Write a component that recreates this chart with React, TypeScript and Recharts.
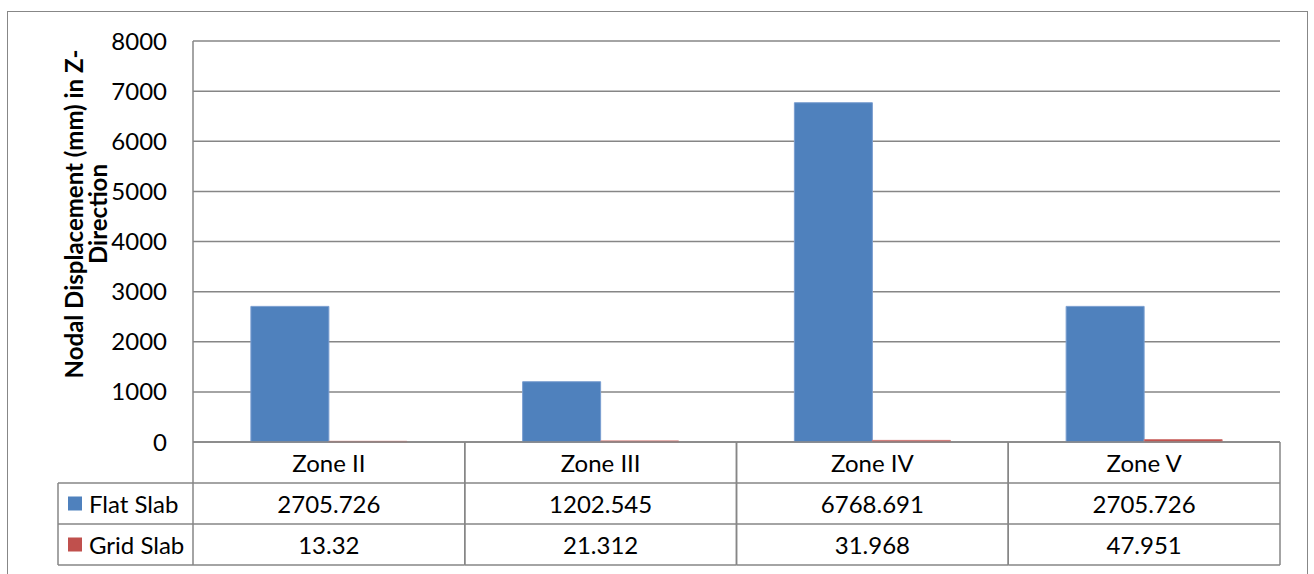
import React from 'react';
import { BarChart, Bar, XAxis, YAxis, CartesianGrid } from 'recharts';

const zones = ['Zone II', 'Zone III', 'Zone IV', 'Zone V'];
const flatSlab = [2705.726, 1202.545, 6768.691, 2705.726];
const gridSlab = [13.32, 21.312, 31.968, 47.951];
const yTicks = [0, 1000, 2000, 3000, 4000, 5000, 6000, 7000, 8000];

const series = [
  { key: 'flat', name: 'Flat Slab', color: '#4F81BD', edge: '#7A9ED0', values: flatSlab },
  { key: 'grid', name: 'Grid Slab', color: '#C0504D', edge: '#D27C79', values: gridSlab },
];

const data = zones.map((zone, i) => ({ zone, flat: flatSlab[i], grid: gridSlab[i] }));

// layout of the plot and the data table below it
const W = 1314;
const H = 574;
const PLOT_LEFT = 193;
const PLOT_RIGHT = 1280;
const PLOT_TOP = 41;
const PLOT_BOTTOM = 442;
const ROW_H = 41;
const LEGEND_LEFT = 58;
const COL_W = (PLOT_RIGHT - PLOT_LEFT) / zones.length;
const LINE = '#868686';
const FONT = 'Lato, "Open Sans", sans-serif';
const FS = 24;

function TableTick(props: any) {
  const { x, index, payload } = props;
  const left = x - COL_W / 2;
  const right = x + COL_W / 2;
  const rows = [payload.value, ...series.map(s => String(s.values[index]))];
  const bottom = PLOT_BOTTOM + ROW_H * rows.length;

  return (
    <g>
      {rows.map((txt, r) => (
        <text key={r} x={x} y={PLOT_BOTTOM + ROW_H * r + ROW_H / 2} textAnchor="middle"
          dominantBaseline="central" fontSize={FS} fontFamily={FONT} fill="#000">{txt}</text>
      ))}
      {[0, 1, 2, 3].map(r => (
        <line key={'h' + r} x1={left} x2={right} y1={PLOT_BOTTOM + ROW_H * r} y2={PLOT_BOTTOM + ROW_H * r}
          stroke={LINE} strokeWidth={1.5} />
      ))}
      <line x1={left} x2={left} y1={PLOT_BOTTOM} y2={bottom} stroke={LINE} strokeWidth={1.5} />
      <line x1={right} x2={right} y1={PLOT_BOTTOM} y2={bottom} stroke={LINE} strokeWidth={1.5} />
      {index === 0 && (
        <g>
          {series.map((s, r) => {
            const top = PLOT_BOTTOM + ROW_H * (r + 1);
            return (
              <g key={s.key}>
                <rect x={LEGEND_LEFT + 10} y={top + ROW_H / 2 - 7} width={14} height={14} fill={s.color} />
                <text x={LEGEND_LEFT + 31} y={top + ROW_H / 2} dominantBaseline="central"
                  fontSize={FS} fontFamily={FONT} fill="#000">{s.name}</text>
                <line x1={LEGEND_LEFT} x2={left} y1={top} y2={top} stroke={LINE} strokeWidth={1.5} />
              </g>
            );
          })}
          <line x1={LEGEND_LEFT} x2={left} y1={bottom} y2={bottom} stroke={LINE} strokeWidth={1.5} />
          <line x1={LEGEND_LEFT} x2={LEGEND_LEFT} y1={PLOT_BOTTOM + ROW_H} y2={bottom} stroke={LINE} strokeWidth={1.5} />
        </g>
      )}
    </g>
  );
}

function YTitle(props: any) {
  const { viewBox } = props;
  const cy = viewBox.y + 173;
  const lines = ['Nodal Displacement (mm) in Z-', 'Direction'];
  return (
    <g>
      {lines.map((t, i) => {
        const bx = 83 + i * 24;
        return (
          <text key={i} x={bx} y={cy} transform={`rotate(-90, ${bx}, ${cy})`} textAnchor="middle"
            fontSize={24} fontWeight="bold" fontFamily={FONT} fill="#000">{t}</text>
        );
      })}
    </g>
  );
}

export default function App() {
  return (
    <div style={{ position: 'fixed', left: 0, top: 0, width: W, height: H, background: '#fff', fontFamily: FONT }}>
      <div style={{ position: 'absolute', left: 7, top: 11, width: 1299, height: 600, border: '1px solid #878787' }} />
      <div style={{ position: 'absolute', left: 0, top: 0 }}>
        <BarChart width={W} height={H} data={data}
          margin={{ top: PLOT_TOP, right: W - PLOT_RIGHT, left: PLOT_LEFT - 100, bottom: 9 }}
          barCategoryGap="21.3%" barGap={0}>
          <CartesianGrid vertical={false} stroke={LINE} strokeWidth={1.5} />
          <XAxis dataKey="zone" interval={0} height={H - 9 - PLOT_BOTTOM} axisLine={false} tickLine={false}
            tick={<TableTick />} />
          <YAxis width={100} domain={[0, 8000]} ticks={yTicks} interval={0} tickLine={false} tickMargin={20}
            axisLine={{ stroke: LINE, strokeWidth: 1.5 }}
            tick={{ fontSize: FS, fill: '#000', fontFamily: FONT }}
            label={<YTitle />} />
          {series.map(s => (
            <Bar key={s.key} dataKey={s.key} name={s.name} fill={s.color} stroke={s.edge} strokeWidth={1}
              isAnimationActive={false} />
          ))}
        </BarChart>
      </div>
    </div>
  );
}
